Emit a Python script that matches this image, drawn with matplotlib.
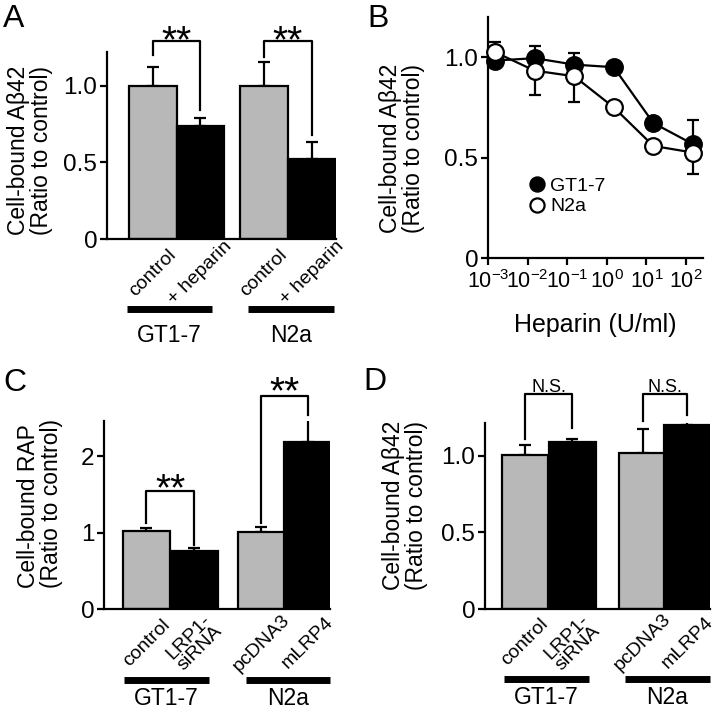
import numpy as np
import matplotlib
matplotlib.use('Agg')
import matplotlib.pyplot as plt

plt.rcParams['font.family'] = ['Liberation Sans', 'DejaVu Sans']
plt.rcParams['mathtext.fontset'] = 'custom'
plt.rcParams['mathtext.rm'] = 'Liberation Sans'
plt.rcParams['mathtext.it'] = 'Liberation Sans:italic'
plt.rcParams['axes.linewidth'] = 1.6

GRAY = '#b8b8b8'

# --- data ---
# A: heparin on cell-bound Abeta42
a_labels = ['control', '+ heparin', 'control', '+ heparin']
a_vals = [1.0, 0.734, 1.0, 0.521]
a_errs = [0.122, 0.055, 0.155, 0.109]

# B: dose response
b_dose = [0.0015, 0.015, 0.15, 1.5, 15, 150]
b_gt17 = [0.983, 0.995, 0.963, 0.95, 0.672, 0.567]
b_gt17_err = [0.0, 0.063, 0.057, 0.0, 0.0, 0.12]
b_n2a = [1.025, 0.933, 0.905, 0.75, 0.558, 0.525]
b_n2a_err_up = [0.05, 0.0, 0.0, 0.0, 0.0, 0.0]
b_n2a_err_dn = [0.0, 0.123, 0.13, 0.0, 0.0, 0.108]

# C: cell-bound RAP
c_labels = ['control', 'LRP1-\nsiRNA', 'pcDNA3', 'mLRP4']
c_vals = [1.026, 0.754, 1.004, 2.185]
c_errs = [0.03, 0.043, 0.065, 0.295]

# D: cell-bound Abeta42
d_labels = ['control', 'LRP1-\nsiRNA', 'pcDNA3', 'mLRP4']
d_vals = [1.004, 1.091, 1.017, 1.202]
d_errs = [0.066, 0.018, 0.161, 0.037]

groups = ['GT1-7', 'N2a']

fig = plt.figure(figsize=(7.2, 7.12), dpi=100)


def bar_panel(rect, pos, xlim, vals, errs, labels, spans, group_y, ylim,
              yticks, yticklabels, ylabel, label_x, label_y, brackets):
    ax = fig.add_axes(rect)
    colors = [GRAY, 'black', GRAY, 'black']
    ax.errorbar(pos, vals, yerr=[np.zeros(4), errs], fmt='none', ecolor='black',
                elinewidth=1.6, capsize=4, capthick=1.6, zorder=1)
    ax.bar(pos, vals, width=1.0, color=colors, edgecolor='black', linewidth=1.6,
           zorder=2)
    ax.set_xlim(*xlim)
    ax.set_ylim(*ylim)
    ax.set_yticks(yticks)
    ax.set_yticklabels(yticklabels)
    ax.set_xticks([])
    for s in ['top', 'right']:
        ax.spines[s].set_visible(False)
    ax.tick_params(axis='y', direction='out', length=5, width=1.6, pad=2,
                   labelsize=17.5)
    tr = ax.get_xaxis_transform()
    for p, lab in zip(pos, labels):
        ax.text(p, -0.18, lab, transform=tr, rotation=45, ha='center',
                va='center', rotation_mode='anchor', fontsize=14,
                linespacing=0.95)
    for (x0, x1), g in zip(spans, groups):
        ax.plot([x0, x1], [-0.375, -0.375], transform=tr, color='black',
                lw=5, solid_capstyle='butt', clip_on=False)
        ax.text((x0 + x1) / 2, group_y, g, transform=tr, ha='center',
                va='baseline', fontsize=16.5)
    ax.set_ylabel(ylabel, fontsize=16.5, linespacing=1.0, multialignment='left')
    ax.yaxis.set_label_coords(label_x, label_y)
    for xl, xr, top, yl, yr, txt, ty, fs in brackets:
        ax.plot([xl, xl, xr, xr], [yl, top, top, yr], color='black', lw=1.6,
                clip_on=False)
        ax.text((xl + xr) / 2, ty, txt, ha='center', va='baseline',
                fontsize=fs, clip_on=False)
    return ax


# panel A
pa = [0.96, 1.96, 3.3, 4.3]
bar_panel([107 / 720, 1 - 239 / 712, 229 / 720, 187 / 712], pa, (0, 4.81),
          a_vals, a_errs, a_labels, [(0.42, 2.21), (2.97, 4.76)], -0.55,
          (0, 1.22), [0, 0.5, 1.0], ['0', '0.5', '1.0'],
          'Cell-bound A\u03b242\n(Ratio to control)', -0.236, 0.476,
          [(pa[0], pa[1], 1.29, 1.2, 0.84, '**', 1.22, 28),
           (pa[2], pa[3], 1.29, 1.19, 0.68, '**', 1.22, 28)])

# panel C
pc = [0.9, 1.92, 3.35, 4.34]
bar_panel([104 / 720, 1 - 609 / 712, 226 / 720, 188 / 712], pc, (0, 4.81),
          c_vals, c_errs, c_labels, [(0.43, 2.23), (3.02, 4.81)], -0.508,
          (0, 2.46), [0, 1, 2], ['0', '1', '2'],
          'Cell-bound RAP\n(Ratio to control)', -0.181, 0.559,
          [(pc[0], pc[1], 1.543, 1.12, 0.84, '**', 1.42, 28),
           (pc[2], pc[3], 2.79, 1.12, 2.54, '**', 2.69, 28)])

# panel D
pd_ = [0.86, 1.88, 3.39, 4.35]
bar_panel([485 / 720, 1 - 609 / 712, 225 / 720, 186.3 / 712], pd_, (0, 4.84),
          d_vals, d_errs, d_labels, [(0.41, 2.24), (3.01, 4.84)], -0.512,
          (0, 1.217), [0, 0.5, 1.0], ['0', '0.5', '1.0'],
          'Cell-bound A\u03b242\n(Ratio to control)', -0.253, 0.558,
          [(pd_[0], pd_[1], 1.407, 1.109, 1.185, 'N.S.', 1.42, 13),
           (pd_[2], pd_[3], 1.407, 1.228, 1.265, 'N.S.', 1.42, 13)])

# panel B
ax = fig.add_axes([488 / 720, 1 - 258 / 712, 215 / 720, 241 / 712])
ax.set_xscale('log')
ax.errorbar(b_dose, b_n2a, yerr=[b_n2a_err_dn, b_n2a_err_up], fmt='none',
            ecolor='black', elinewidth=1.6, capsize=4, capthick=1.6, zorder=1)
ax.errorbar(b_dose, b_gt17, yerr=[np.zeros(6), b_gt17_err], fmt='none',
            ecolor='black', elinewidth=1.6, capsize=4, capthick=1.6, zorder=1)
ax.plot(b_dose, b_n2a, '-o', color='black', lw=1.6, ms=12, mfc='white',
        mec='black', mew=1.6, label='N2a', zorder=3, clip_on=False)
ax.plot(b_dose, b_gt17, '-o', color='black', lw=1.6, ms=12, mfc='black',
        mec='black', mew=1.6, label='GT1-7', zorder=2, clip_on=False)
ax.set_xlim(1e-3, 10 ** 2.43)
ax.set_ylim(0, 1.2)
ax.set_xticks([1e-3, 1e-2, 1e-1, 1e0, 1e1, 1e2])
ax.minorticks_off()
ax.set_yticks([0, 0.5, 1.0])
ax.set_yticklabels(['0', '0.5', '1.0'])
for s in ['top', 'right']:
    ax.spines[s].set_visible(False)
ax.tick_params(axis='y', direction='out', length=5, width=1.6, pad=2,
               labelsize=17.5)
ax.tick_params(axis='x', direction='out', length=5, width=1.6, pad=4,
               labelsize=15.5)
ax.set_xlabel('Heparin (U/ml)', fontsize=18, labelpad=14)
ax.set_ylabel('Cell-bound A\u03b242\n(Ratio to control)', fontsize=16.5,
              linespacing=1.0, multialignment='left')
ax.yaxis.set_label_coords(-0.293, 0.454)
h, l = ax.get_legend_handles_labels()
leg = ax.legend(h[::-1], l[::-1], loc='upper left',
                bbox_to_anchor=(0.19, 0.335), frameon=False, fontsize=14,
                labelspacing=0.15, handlelength=0.8, handletextpad=0.3,
                borderpad=0, borderaxespad=0, markerscale=0.85)
for line in leg.get_lines():
    line.set_linestyle('none')

# panel letters
for x, y, t in [(3, 27, 'A'), (367, 27, 'B'), (3, 391, 'C'), (363, 390, 'D')]:
    fig.text(x / 720, 1 - y / 712, t, fontsize=23, va='baseline', ha='left')

fig.savefig('out.png', dpi=100)
